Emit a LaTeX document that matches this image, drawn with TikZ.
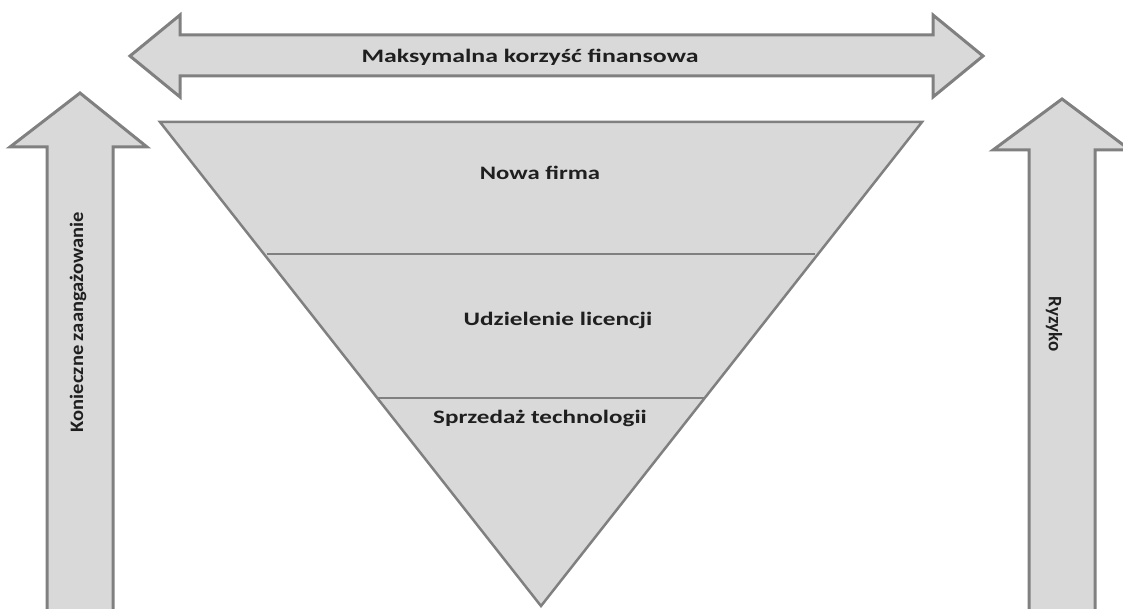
\documentclass[tikz,border=0pt]{standalone}
\usepackage{fontspec}
\setmainfont{Carlito}
\definecolor{shapefill}{HTML}{D9D9D9}
\definecolor{shapeline}{HTML}{808080}
\begin{document}
\begin{tikzpicture}[x=1pt,y=-1pt,
  arrowshape/.style={fill=shapefill,draw=shapeline,line width=3pt,line join=miter},
  tri/.style={fill=shapefill,draw=shapeline,line width=2.5pt,line join=miter},
  divider/.style={draw=shapeline,line width=1.5pt},
  lbl/.style={font=\bfseries\fontsize{19}{21}\selectfont,text=black!88,inner sep=0pt}]
\useasboundingbox (0,0) rectangle (1123,609);
\clip (0,0) rectangle (1123,609);
% top double arrow
\path[arrowshape] (130,56) -- (180,15) -- (180,35) -- (933,35) -- (933,15) -- (983,56)
  -- (933,97) -- (933,76) -- (180,76) -- (180,97) -- cycle;
% left up arrow
\path[arrowshape] (80,93) -- (147,147) -- (113,147) -- (113,620) -- (47,620) -- (47,147)
  -- (10,147) -- cycle;
% right up arrow
\path[arrowshape] (1062,99) -- (1130,150) -- (1095,150) -- (1095,620) -- (1029,620)
  -- (1029,150) -- (993,150) -- cycle;
% triangle
\coordinate (tl) at (160,122);
\coordinate (tr) at (922,122);
\coordinate (bt) at (541,606);
\path[tri] (tl) -- (tr) -- (bt) -- cycle;
\draw[divider] (267,254) -- (815,254);
\draw[divider] (378,398) -- (704,398);
% labels
\node[lbl] (max) at (530,57) {\scalebox{1.36}[1]{Maksymalna korzyść finansowa}};
\node[lbl] (nowa) at (540,173) {\scalebox{1.3}[1]{Nowa firma}};
\node[lbl] (udz) at (558,320) {\scalebox{1.33}[1]{Udzielenie licencji}};
\node[lbl] (sprz) at (540,418) {\scalebox{1.32}[1]{Sprzedaż technologii}};
\node[lbl,rotate=90] (kon) at (78,322) {\scalebox{1.08}[1]{Konieczne zaangażowanie}};
\node[lbl,rotate=-90] (ryz) at (1054,324) {Ryzyko};
\end{tikzpicture}
\end{document}
